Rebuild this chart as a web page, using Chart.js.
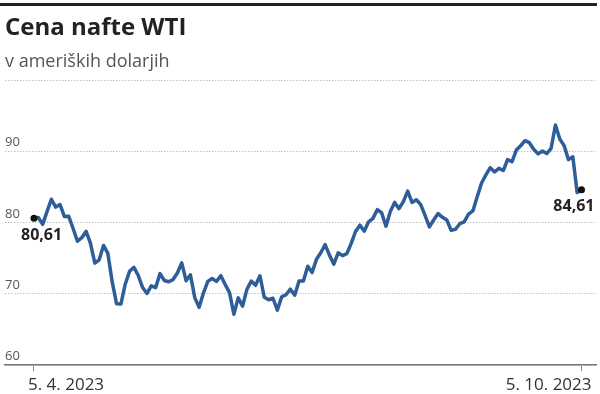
<!DOCTYPE html>
<html><head><meta charset="utf-8">
<script src="https://cdn.jsdelivr.net/npm/chart.js@4.4.0/dist/chart.umd.min.js"></script>
<style>
html,body{margin:0;padding:0;background:#fff;}
#wrap{position:relative;width:600px;height:394px;overflow:hidden;background:#fff;}
#bar{position:absolute;left:0;top:3px;width:597px;height:3px;background:#222;}
#title{position:absolute;left:5px;top:13.7px;font:700 24px/1 "Open Sans";color:#222;white-space:nowrap;}
#sub{position:absolute;left:5px;top:50.5px;font:400 18px/1 "Open Sans";color:#555;white-space:nowrap;}
canvas{position:absolute;left:0;top:0;}
</style></head><body>
<div id="wrap">
<canvas id="c" width="600" height="394"></canvas>
<div id="bar"></div>
<div id="title">Cena nafte WTI</div>
<div id="sub">v ameriških dolarjih</div>
</div>
<script>
// Trading days, 5. 4. 2023 - 5. 10. 2023
const dates = [
 '5.4.','6.4.','10.4.','11.4.','12.4.','13.4.','14.4.','17.4.','18.4.','19.4.','20.4.','21.4.','24.4.','25.4.','26.4.','27.4.','28.4.',
 '1.5.','2.5.','3.5.','4.5.','5.5.','8.5.','9.5.','10.5.','11.5.','12.5.','15.5.','16.5.','17.5.','18.5.','19.5.','22.5.','23.5.','24.5.','25.5.','26.5.','30.5.','31.5.',
 '1.6.','2.6.','5.6.','6.6.','7.6.','8.6.','9.6.','12.6.','13.6.','14.6.','15.6.','16.6.','20.6.','21.6.','22.6.','23.6.','26.6.','27.6.','28.6.','29.6.','30.6.',
 '3.7.','5.7.','6.7.','7.7.','10.7.','11.7.','12.7.','13.7.','14.7.','17.7.','18.7.','19.7.','20.7.','21.7.','24.7.','25.7.','26.7.','27.7.','28.7.','31.7.',
 '1.8.','2.8.','3.8.','4.8.','7.8.','8.8.','9.8.','10.8.','11.8.','14.8.','15.8.','16.8.','17.8.','18.8.','21.8.','22.8.','23.8.','24.8.','25.8.','28.8.','29.8.','30.8.','31.8.',
 '1.9.','5.9.','6.9.','7.9.','8.9.','11.9.','12.9.','13.9.','14.9.','15.9.','18.9.','19.9.','20.9.','21.9.','22.9.','25.9.','26.9.','27.9.','28.9.','29.9.',
 '2.10.','3.10.','4.10.','5.10.'
];
const prices = [
 80.61,80.70,79.74,81.53,83.26,82.16,82.52,80.83,80.86,79.16,77.37,77.87,78.76,77.07,74.30,74.76,76.78,
 75.66,71.66,68.60,68.56,71.34,73.16,73.71,72.56,70.87,70.04,71.11,70.86,72.83,71.86,71.69,71.99,72.91,74.34,71.83,72.67,69.46,68.09,
 70.10,71.74,72.15,71.74,72.53,71.29,70.17,67.12,69.42,68.27,70.62,71.78,71.19,72.53,69.51,69.16,69.37,67.70,69.56,69.86,70.64,
 69.79,71.79,71.80,73.86,72.99,74.83,75.75,76.89,75.42,74.15,75.75,75.35,75.63,77.07,78.74,79.63,78.78,80.09,80.58,81.80,
 81.37,79.49,81.55,82.82,81.94,82.92,84.40,82.82,83.19,82.51,80.99,79.38,80.39,81.25,80.72,80.35,78.89,79.05,79.83,80.10,81.16,81.63,83.63,
 85.55,86.69,87.70,87.10,87.60,87.29,88.84,88.52,90.16,90.77,91.48,91.20,90.28,89.63,90.03,89.68,90.39,93.68,91.71,90.79,
 88.82,89.23,84.22,84.61
];
const yTickValues = [60,70,80,90,100];
const yTickLabels = ['60','70','80','90',''];
const xTickLabels = ['5. 4. 2023','5. 10. 2023'];

const lastIdx = prices.length - 1;
const fmt = v => v.toFixed(2).replace('.', ',');

const overlay = {
  id: 'overlay',
  afterDatasetsDraw(chart) {
    const ctx = chart.ctx, xs = chart.scales.x, ys = chart.scales.y, area = chart.chartArea;
    ctx.save();
    ctx.textBaseline = 'alphabetic';
    ctx.font = '13px "Open Sans"';
    ctx.fillStyle = '#555';
    ctx.textAlign = 'left';
    yTickValues.forEach((v, i) => {
      if (yTickLabels[i]) ctx.fillText(yTickLabels[i], area.left, ys.getPixelForValue(v) - 5);
    });
    ctx.font = '17px "Open Sans"';
    ctx.fillStyle = '#333';
    const x0 = xs.getPixelForValue(0), x1 = xs.getPixelForValue(lastIdx);
    ctx.textAlign = 'left';
    ctx.fillText(xTickLabels[0], x0 - 6, 390);
    ctx.textAlign = 'right';
    ctx.fillText(xTickLabels[1], x1 + 10, 390);
    ctx.font = '700 16px "Open Sans"';
    ctx.fillStyle = '#222';
    ctx.textAlign = 'left';
    ctx.fillText(fmt(prices[0]), x0 - 13, ys.getPixelForValue(prices[0]) + 22);
    ctx.textAlign = 'right';
    ctx.fillText(fmt(prices[lastIdx]), x1 + 13, ys.getPixelForValue(prices[lastIdx]) + 21);
    ctx.restore();
  }
};

new Chart(document.getElementById('c'), {
  type: 'line',
  data: {
    labels: dates,
    datasets: [{
      data: prices.map((v, i) => ({ x: i, y: v })),
      borderColor: '#2e5e98',
      borderWidth: 3.5,
      borderJoinStyle: 'round',
      borderCapStyle: 'round',
      tension: 0,
      fill: false,
      pointRadius: c => (c.dataIndex === 0 || c.dataIndex === lastIdx) ? 3.5 : 0,
      pointBackgroundColor: '#111',
      pointBorderWidth: 0,
      pointHoverRadius: 0
    }]
  },
  options: {
    responsive: false,
    animation: false,
    devicePixelRatio: 1,
    layout: { padding: { top: 80, left: 5, right: 3, bottom: 0 } },
    plugins: { legend: { display: false }, tooltip: { enabled: false } },
    events: [],
    scales: {
      x: {
        type: 'linear',
        min: -6.67,
        max: lastIdx + 3.45,
        afterBuildTicks: s => { s.ticks = [{ value: 0 }, { value: lastIdx }]; },
        ticks: { display: false },
        grid: { drawOnChartArea: false, drawTicks: true, tickLength: 6, color: '#888', lineWidth: 1 },
        border: { display: true, color: '#777', width: 1.5 },
        afterFit: s => { s.height = 29; }
      },
      y: {
        min: 60,
        max: 100,
        afterBuildTicks: s => { s.ticks = yTickValues.map(v => ({ value: v })); },
        ticks: { display: false },
        grid: { color: '#c2c2c2', lineWidth: 1, drawTicks: false },
        border: { display: false, dash: [1.5, 1.5] },
        afterFit: s => { s.width = 0; }
      }
    }
  },
  plugins: [overlay]
});
</script>
</body></html>
